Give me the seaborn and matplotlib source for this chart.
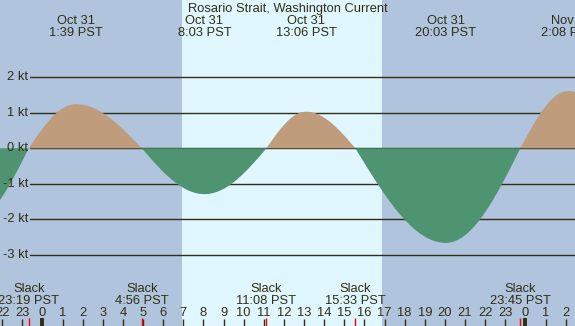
import numpy as np
import pandas as pd
import matplotlib
matplotlib.use("Agg")
import matplotlib.pyplot as plt
import seaborn as sns

# ---- data (hours relative to Oct 31 00:00 PST) ----
event_hours = [-3.7, -0.683, 1.65, 4.933, 8.05, 11.133, 13.1, 15.55, 20.05, 23.75, 26.133, 29.3]
event_knots = [-2.15, 0.0, 1.24, 0.0, -1.29, 0.0, 1.03, 0.0, -2.66, 0.0, 1.61, 0.0]

max_hours = [1.65, 8.05, 13.1, 20.05, 26.133]
max_dates = ["Oct 31", "Oct 31", "Oct 31", "Oct 31", "Nov 1"]
max_times = ["1:39 PST", "8:03 PST", "13:06 PST", "20:03 PST", "2:08 PST"]

slack_hours = [-0.683, 4.933, 11.133, 15.55, 23.75]
slack_times = ["23:19 PST", "4:56 PST", "11:08 PST", "15:33 PST", "23:45 PST"]

hour_ticks = list(range(-2, 27))
hour_labels = [str(h % 24) for h in hour_ticks]
kt_levels = [2, 1, 0, -1, -2, -3]
kt_labels = ["2 kt", "1 kt", "0 kt", "-1 kt", "-2 kt", "-3 kt"]

sunrise, sunset = 6.93, 16.88
title = "Rosario Strait, Washington Current"

# ---- smooth rendering of the current curve between tabulated events ----
def current_curve(events_t, events_v, n=40):
    ts, vs = [], []
    for i in range(len(events_t) - 1):
        t0, t1 = events_t[i], events_t[i + 1]
        v0, v1 = events_v[i], events_v[i + 1]
        s = np.linspace(0, 1, n, endpoint=False)
        tt = t0 + (t1 - t0) * s
        if v0 == 0:
            vv = v1 * np.sin(np.pi / 2 * s)
        else:
            vv = v0 * np.cos(np.pi / 2 * s)
        ts.extend(tt); vs.extend(vv)
    ts.append(events_t[-1]); vs.append(events_v[-1])
    return pd.DataFrame({"hour": ts, "knots": vs})

df = current_curve(event_hours, event_knots)

# ---- style ----
sns.set_style("white")
plt.rcParams["font.family"] = ["Liberation Sans", "DejaVu Sans"]
TXT = "#2f2f12"
NIGHT = "#b0c4de"
DAY = "#e0f7ff"
FLOOD = "#be9c7c"
EBB = "#4f9470"
FS = 9.3

W, H = 575, 326
fig = plt.figure(figsize=(W / 100, H / 100), dpi=100)
ax = fig.add_axes([0, 0, 1, 1])
px_per_hr = 20.12
x0_px = 42.5
xmin = -x0_px / px_per_hr
xmax = (W - x0_px) / px_per_hr
px_per_kt = 35.54
y0_px = 148.3
ymax = y0_px / px_per_kt
ymin = -(H - y0_px) / px_per_kt
ax.set_xlim(xmin, xmax)
ax.set_ylim(ymin, ymax)
ax.set_facecolor(NIGHT)
fig.patch.set_facecolor(NIGHT)
for sp in ax.spines.values():
    sp.set_visible(False)
ax.set_xticks([]); ax.set_yticks([])
ax.set_xlabel(""); ax.set_ylabel("")

def hx(px):  # pixel horizontal size -> hours
    return px / px_per_hr

def ky(px):  # pixel vertical position from top -> knots
    return (y0_px - px) / px_per_kt

ax.axvspan(sunrise, sunset, color=DAY, lw=0, zorder=0)

# grid lines at kt levels
for lv, lb in zip(kt_levels, kt_labels):
    ax.plot([xmin + hx(30), xmax], [lv, lv], color=TXT, lw=1.0, zorder=1)
    ax.text(xmin + hx(28.5), lv, lb, ha="right", va="center", fontsize=FS, color=TXT, zorder=5)

# current curve with flood / ebb fills
sns.lineplot(data=df, x="hour", y="knots", ax=ax, lw=0, color=EBB, zorder=2)
ax.fill_between(df["hour"], 0, df["knots"], where=df["knots"] >= 0, color=FLOOD, lw=0, zorder=2, interpolate=True)
ax.fill_between(df["hour"], 0, df["knots"], where=df["knots"] <= 0, color=EBB, lw=0, zorder=2, interpolate=True)
ax.set_xlabel(""); ax.set_ylabel("")
ax.set_xticks([]); ax.set_yticks([])

# title and max labels
ax.text((xmin + xmax) / 2, ky(11.7), title, ha="center", va="baseline", fontsize=FS, color=TXT, zorder=6)
for t, d, tm in zip(max_hours, max_dates, max_times):
    ax.text(t, ky(24), d, ha="center", va="baseline", fontsize=FS, color=TXT, zorder=6)
    ax.text(t, ky(36), tm, ha="center", va="baseline", fontsize=FS, color=TXT, zorder=6)

# slack labels
for t, tm in zip(slack_hours, slack_times):
    ax.text(t, ky(291.7), "Slack", ha="center", va="baseline", fontsize=FS, color=TXT, zorder=6)
    ax.text(t, ky(304), tm, ha="center", va="baseline", fontsize=FS, color=TXT, zorder=6)

# hour axis ticks and labels
for h, lb in zip(hour_ticks, hour_labels):
    ax.text(h, ky(316), lb, ha="center", va="baseline", fontsize=FS, color=TXT, zorder=6)
    if h % 24 == 0:
        ax.plot([h, h], [ky(318), ymin], color=TXT, lw=2.8, solid_capstyle="butt", zorder=4)
    else:
        ax.plot([h, h], [ky(319), ymin], color=TXT, lw=1.0, solid_capstyle="butt", zorder=4)
for t in slack_hours:
    ax.plot([t, t], [ky(318), ymin], color="#ff0000", lw=1.0, solid_capstyle="butt", zorder=4)

fig.savefig("out.png", dpi=100, facecolor=NIGHT)
